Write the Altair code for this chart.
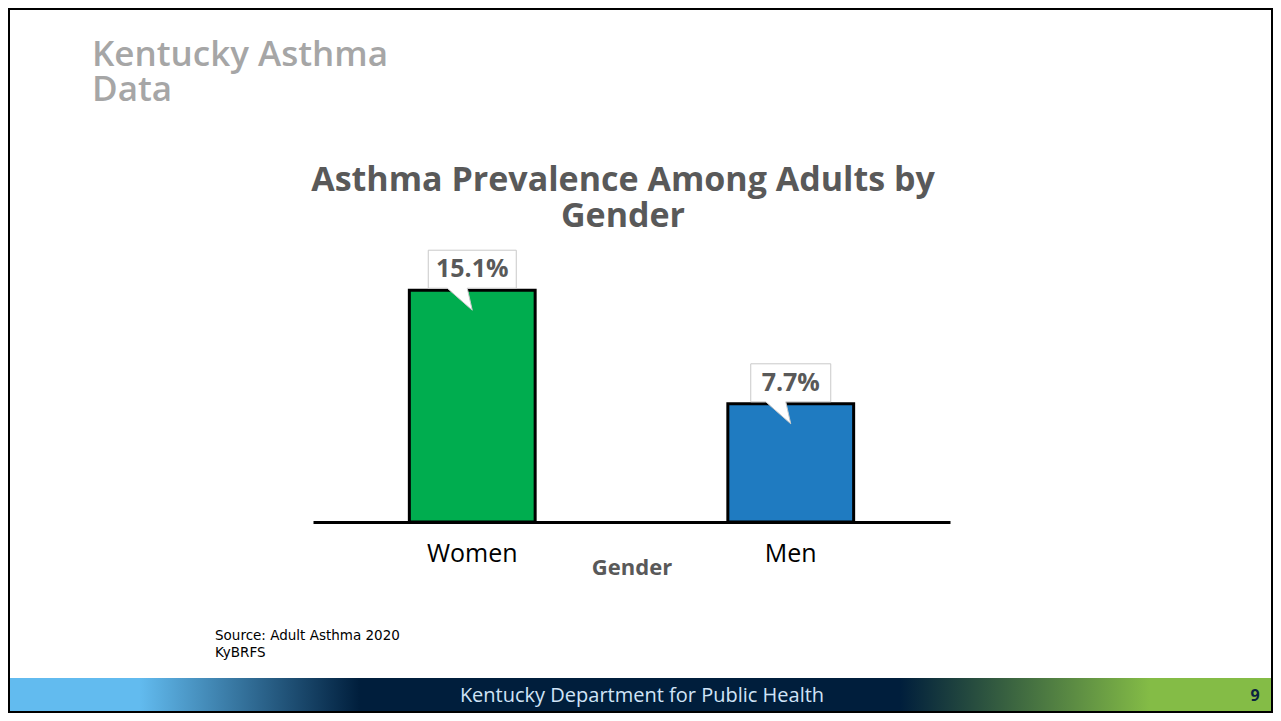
import altair as alt
import pandas as pd

genders = ["Women", "Men"]
prevalence = [15.1, 7.7]
value_labels = ["15.1%", "7.7%"]
bar_colors = ["#00ad4f", "#1f7bc1"]

slide_title = ["Kentucky Asthma", "Data"]
chart_title = ["Asthma Prevalence Among Adults by", "Gender"]
axis_title = "Gender"
source_lines = ["Source: Adult Asthma 2020", "KyBRFS"]
footer_text = "Kentucky Department for Public Health"
page_number = "9"

W, H = 1265, 705
FONT = "Open Sans"
BASE_Y = 514  # pixel row of the category axis line

df = pd.DataFrame({"gender": genders, "value": prevalence, "label": value_labels})

# speech bubbles as custom symbols; 1 unit = 100 px (size 40000), origin = bar top
bubble_women = "M -0.44 -0.4 L 0.44 -0.4 L 0.44 -0.02 L -0.05 -0.02 L 0 0.2 L -0.25 -0.02 L -0.44 -0.02 Z"
bubble_men = "M -0.4 -0.4 L 0.4 -0.4 L 0.4 -0.02 L -0.05 -0.02 L 0 0.2 L -0.25 -0.02 L -0.4 -0.02 Z"

x_enc = alt.X(
    "gender:N",
    sort=genders,
    scale=alt.Scale(range=[305, 942], paddingInner=0.605, paddingOuter=0.3025),
    axis=alt.Axis(
        title=axis_title,
        orient="bottom",
        offset=BASE_Y - H,
        domainColor="black",
        domainWidth=3,
        ticks=False,
        grid=False,
        labelFont=FONT,
        labelFontSize=25,
        labelColor="black",
        labelPadding=39,
        labelBaseline="alphabetic",
        labelAngle=0,
        titleFont=FONT,
        titleFontSize=22,
        titleFontWeight="bold",
        titleColor="#595959",
        titleBaseline="alphabetic",
        titleY=52,
    ),
)
y_enc = alt.Y("value:Q", scale=alt.Scale(domain=[0, 20], range=[BASE_Y, 207]), axis=None)

bars = alt.Chart(df).mark_bar(stroke="black", strokeWidth=3).encode(
    x=x_enc,
    y=y_enc,
    color=alt.Color("gender:N", scale=alt.Scale(domain=genders, range=bar_colors), legend=None),
)

bubbles = alt.Chart(df).mark_point(
    filled=True, fill="white", stroke="#c9c9c9", strokeWidth=1, opacity=1, size=40000
).encode(
    x=x_enc,
    y=y_enc,
    shape=alt.Shape("gender:N", scale=alt.Scale(domain=genders, range=[bubble_women, bubble_men]), legend=None),
)

labels = alt.Chart(df).mark_text(
    font=FONT, fontSize=25, fontWeight="bold", color="#595959", baseline="middle", dy=-21
).encode(x=x_enc, y=y_enc, text="label:N")


def deco_text(text, x, y, **kw):
    return alt.Chart(pd.DataFrame({"t": [0]})).mark_text(text=text, **kw).encode(
        x=alt.value(x), y=alt.value(y)
    )


one = pd.DataFrame({"t": [0]})

footer_fill = alt.LinearGradient(
    gradient="linear",
    stops=[
        alt.GradientStop(offset=0, color="#62bbef"),
        alt.GradientStop(offset=0.104, color="#62bbef"),
        alt.GradientStop(offset=0.278, color="#001e3c"),
        alt.GradientStop(offset=0.705, color="#001e3c"),
        alt.GradientStop(offset=0.903, color="#84bc46"),
        alt.GradientStop(offset=1, color="#84bc46"),
    ],
    x1=0, x2=1, y1=0, y2=0,
)
footer = alt.Chart(one).mark_rect(color=footer_fill).encode(
    x=alt.value(0), x2=alt.value(W), y=alt.value(670), y2=alt.value(H)
)

border = alt.Chart(one).mark_rect(fillOpacity=0, stroke="black", strokeWidth=2).encode(
    x=alt.value(1), x2=alt.value(W - 1), y=alt.value(1), y2=alt.value(H - 1)
)

title_style = dict(font=FONT, fontSize=35, fontWeight=600, color="#a6a6a6", align="left", baseline="alphabetic")
head_style = dict(font=FONT, fontSize=34, fontWeight="bold", color="#595959", align="center", baseline="alphabetic")
src_style = dict(font="DejaVu Sans", fontSize=13.5, color="black", align="left", baseline="alphabetic")

chart = alt.layer(
    footer,
    bars,
    bubbles,
    labels,
    deco_text(slide_title[0], 84, 58, **title_style),
    deco_text(slide_title[1], 84, 93, **title_style),
    deco_text(chart_title[0], 615, 183, **head_style),
    deco_text(chart_title[1], 615, 219, **head_style),
    deco_text(source_lines[0], 207, 632, **src_style),
    deco_text(source_lines[1], 207, 649, **src_style),
    deco_text(footer_text, 634, 688, font=FONT, fontSize=20, color="#d0e4f7",
              align="center", baseline="middle"),
    deco_text(page_number, 1247, 688, font=FONT, fontSize=16, fontWeight="bold", color="#0b2340",
              align="center", baseline="middle"),
    border,
).properties(
    width=W, height=H, autosize=alt.AutoSizeParams(type="none"), padding=0, background="white"
).configure_view(strokeWidth=0)

chart.save("out.html", embed_options={"renderer": "svg", "actions": False})
